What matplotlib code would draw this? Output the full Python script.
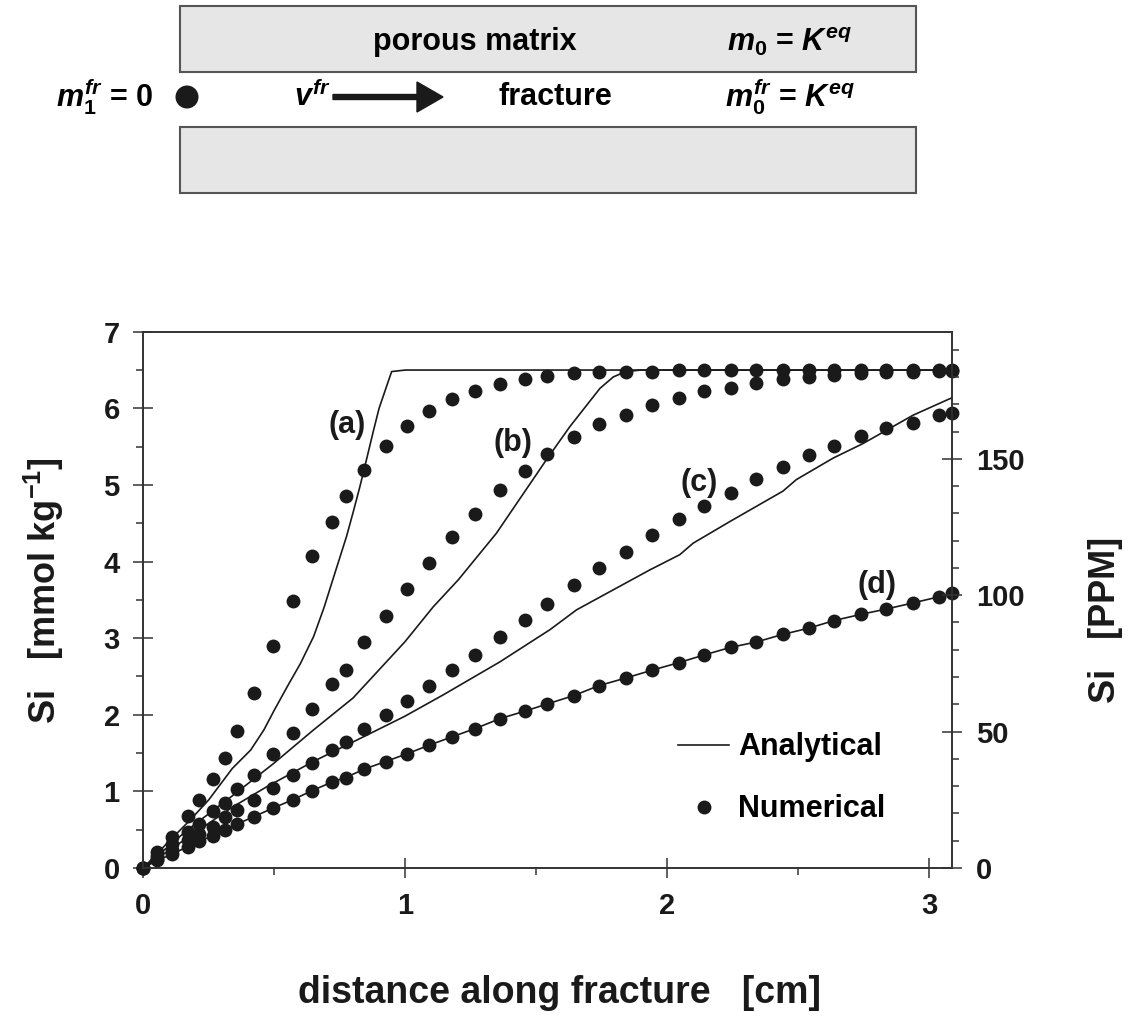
import matplotlib
matplotlib.use('Agg')
import matplotlib.pyplot as plt
from matplotlib.patches import Rectangle, Circle, FancyArrow
from matplotlib.lines import Line2D
from matplotlib.ticker import MultipleLocator

plt.rcParams['font.family'] = ['Liberation Sans', 'DejaVu Sans']
plt.rcParams['font.weight'] = 'bold'
plt.rcParams['axes.labelweight'] = 'bold'
plt.rcParams['mathtext.fontset'] = 'custom'
plt.rcParams['mathtext.rm'] = 'Liberation Sans:bold'
plt.rcParams['mathtext.it'] = 'Liberation Sans:bold:italic'
plt.rcParams['mathtext.bf'] = 'Liberation Sans:bold'

# ---- data (distance in cm, Si in mmol/kg) ----
x_num = [0, 0.053, 0.111, 0.169, 0.214, 0.267, 0.312, 0.356, 0.422, 0.494,
         0.570, 0.645, 0.719, 0.772, 0.843, 0.925, 1.006, 1.089, 1.177, 1.267,
         1.362, 1.459, 1.541, 1.643, 1.739, 1.842, 1.940, 2.044, 2.140, 2.242,
         2.340, 2.442, 2.540, 2.637, 2.738, 2.836, 2.938, 3.037, 3.088]

si_a_num = [0, 0.21, 0.41, 0.68, 0.89, 1.16, 1.44, 1.79, 2.28, 2.90,
            3.49, 4.07, 4.52, 4.86, 5.20, 5.51, 5.77, 5.97, 6.12, 6.23,
            6.32, 6.38, 6.42, 6.46, 6.48, 6.48, 6.48, 6.50, 6.50, 6.50,
            6.50, 6.50, 6.50, 6.50, 6.50, 6.50, 6.50, 6.50, 6.50]
si_b_num = [0, 0.15, 0.31, 0.47, 0.58, 0.74, 0.85, 1.03, 1.21, 1.49,
            1.76, 2.07, 2.40, 2.59, 2.95, 3.29, 3.64, 3.98, 4.32, 4.62,
            4.93, 5.18, 5.41, 5.62, 5.79, 5.91, 6.05, 6.14, 6.23, 6.27,
            6.33, 6.38, 6.41, 6.44, 6.46, 6.47, 6.48, 6.49, 6.49]
si_c_num = [0, 0.12, 0.24, 0.37, 0.45, 0.54, 0.66, 0.76, 0.89, 1.04,
            1.21, 1.37, 1.54, 1.64, 1.82, 2.00, 2.18, 2.38, 2.58, 2.78,
            3.01, 3.24, 3.44, 3.69, 3.92, 4.12, 4.35, 4.55, 4.73, 4.90,
            5.08, 5.24, 5.39, 5.51, 5.64, 5.74, 5.81, 5.91, 5.94]
si_d_num = [0, 0.10, 0.18, 0.28, 0.35, 0.42, 0.50, 0.57, 0.67, 0.78,
            0.89, 1.01, 1.12, 1.18, 1.29, 1.39, 1.49, 1.60, 1.71, 1.82,
            1.95, 2.05, 2.14, 2.25, 2.38, 2.48, 2.58, 2.68, 2.78, 2.88,
            2.95, 3.05, 3.13, 3.23, 3.31, 3.38, 3.46, 3.54, 3.59]

x_ana_a = [0, 0.09, 0.18, 0.25, 0.34, 0.41, 0.46, 0.50, 0.55, 0.60,
           0.65, 0.69, 0.725, 0.776, 0.80, 0.827, 0.852, 0.878, 0.90, 0.948,
           1.0, 3.088]
si_ana_a = [0, 0.32, 0.63, 0.89, 1.30, 1.54, 1.80, 2.06, 2.37, 2.67,
            3.02, 3.40, 3.78, 4.33, 4.63, 4.98, 5.33, 5.70, 6.00, 6.48,
            6.50, 6.50]
x_ana_b = [0, 0.17, 0.343, 0.496, 0.649, 0.801, 0.998, 1.107, 1.202, 1.348,
           1.539, 1.628, 1.743, 1.794, 1.842, 1.90, 3.088]
si_ana_b = [0, 0.50, 0.95, 1.36, 1.80, 2.22, 2.95, 3.41, 3.76, 4.37,
            5.33, 5.76, 6.26, 6.41, 6.48, 6.50, 6.50]
x_ana_c = [0, 0.343, 0.471, 0.649, 0.839, 0.998, 1.145, 1.361, 1.552, 1.654,
           1.933, 2.048, 2.099, 2.238, 2.442, 2.493, 2.633, 2.747, 2.938, 3.088]
si_ana_c = [0, 0.80, 1.06, 1.39, 1.71, 1.98, 2.26, 2.69, 3.11, 3.37,
            3.89, 4.09, 4.24, 4.52, 4.92, 5.07, 5.35, 5.54, 5.91, 6.14]
si_ana_d = [0, 0.10, 0.18, 0.28, 0.35, 0.42, 0.50, 0.57, 0.67, 0.78,
            0.89, 1.01, 1.12, 1.18, 1.29, 1.39, 1.49, 1.60, 1.71, 1.82,
            1.95, 2.05, 2.14, 2.25, 2.38, 2.48, 2.58, 2.68, 2.78, 2.88,
            2.95, 3.05, 3.13, 3.23, 3.31, 3.38, 3.46, 3.54, 3.59]

curve_labels = ['(a)', '(b)', '(c)', '(d)']
label_pos = [(0.78, 5.78), (1.41, 5.55), (2.12, 5.03), (2.80, 3.69)]

SI_MOLAR = 28.0855  # mg/mmol -> ppm

fig = plt.figure(figsize=(11.3, 10.22), dpi=100)

# ---- schematic at the top (pixel coordinates) ----
sk = fig.add_axes([0, 0, 1, 1])
sk.set_xlim(0, 1130)
sk.set_ylim(1022, 0)
sk.axis('off')
gray = '#e6e6e6'
edge = '#555555'
sk.add_patch(Rectangle((180, 6), 736, 66, facecolor=gray, edgecolor=edge, lw=1.5))
sk.add_patch(Rectangle((180, 127), 736, 66, facecolor=gray, edgecolor=edge, lw=1.5))
sk.add_patch(Circle((187, 97), 11.5, facecolor='#1a1a1a', edgecolor='none'))
sk.add_patch(FancyArrow(333, 97, 110, 0, width=5, head_width=30, head_length=26,
                        length_includes_head=True, color='#1a1a1a'))
fs = 22
sk.text(475, 42, 'porous matrix', ha='center', va='center', fontsize=fs)
sk.text(790, 42, r'$m_0$ = $K^{eq}$', ha='center', va='center', fontsize=fs)
sk.text(153, 97, r'$m_1^{fr}$ = 0', ha='right', va='center', fontsize=fs)
sk.text(312, 97, r'$v^{fr}$', ha='center', va='center', fontsize=fs)
sk.text(555, 97, 'fracture', ha='center', va='center', fontsize=fs)
sk.text(790, 97, r'$m_0^{fr}$ = $K^{eq}$', ha='center', va='center', fontsize=fs)

# ---- main chart ----
ax = fig.add_axes([0.1268, 0.1507, 0.7159, 0.5247])
ink = '#1a1a1a'
for xa, ya in [(x_ana_a, si_ana_a), (x_ana_b, si_ana_b), (x_ana_c, si_ana_c),
               (x_num, si_ana_d)]:
    ax.plot(xa, ya, color=ink, lw=1.2, zorder=3)
for ys in [si_a_num, si_b_num, si_c_num, si_d_num]:
    ax.plot(x_num, ys, 'o', color=ink, ms=10, mec='none', clip_on=False, zorder=4)

for lab, (lx, ly) in zip(curve_labels, label_pos):
    ax.text(lx, ly, lab, ha='center', va='center', fontsize=22, color=ink)

ax.set_xlim(0, 3.088)
ax.set_ylim(0, 7)
ax.xaxis.set_major_locator(MultipleLocator(1))
ax.xaxis.set_minor_locator(MultipleLocator(0.5))
ax.yaxis.set_major_locator(MultipleLocator(1))
ax.yaxis.set_minor_locator(MultipleLocator(0.5))
ax.tick_params(which='major', direction='inout', length=14, width=1.1,
               labelsize=21, pad=10, color='#333333', labelcolor=ink)
ax.tick_params(which='minor', direction='out', length=5, width=1.1, color='#333333')
ax.tick_params(top=False, right=False, which='both')
for s in ax.spines.values():
    s.set_linewidth(1.2)
    s.set_color('#333333')

ax.set_xlabel('distance along fracture   [cm]', fontsize=27, color=ink)
ax.xaxis.set_label_coords(0.515, -0.2)
ax.set_ylabel('Si   [mmol kg$^{-1}$]', fontsize=26, color=ink)
ax.yaxis.set_label_coords(-0.095, 0.518)

ax2 = ax.twinx()
ax2.set_ylim(0, 7 * SI_MOLAR)
ax2.yaxis.set_major_locator(MultipleLocator(50))
ax2.yaxis.set_minor_locator(MultipleLocator(10))
ax2.tick_params(which='major', direction='inout', length=14, width=1.1,
                labelsize=21, pad=10, color='#333333', labelcolor=ink)
ax2.tick_params(which='minor', direction='out', length=5, width=1.1, color='#333333')
for s in ax2.spines.values():
    s.set_linewidth(1.2)
    s.set_color('#333333')
ax2.set_ylabel('Si   [PPM]', fontsize=26, color=ink)
ax2.yaxis.set_label_coords(1.168, 0.462)

handles = [Line2D([], [], color=ink, lw=1.2),
           Line2D([], [], ls='none', marker='o', color=ink, ms=10, mec='none')]
ax.legend(handles, ['Analytical', 'Numerical'], loc='center left',
          bbox_to_anchor=(0.661, 0.167), frameon=False, fontsize=22,
          handlelength=1.67, handletextpad=0.3, labelspacing=1.05,
          borderpad=0, borderaxespad=0)

fig.savefig('out.png', dpi=100, facecolor='white')
